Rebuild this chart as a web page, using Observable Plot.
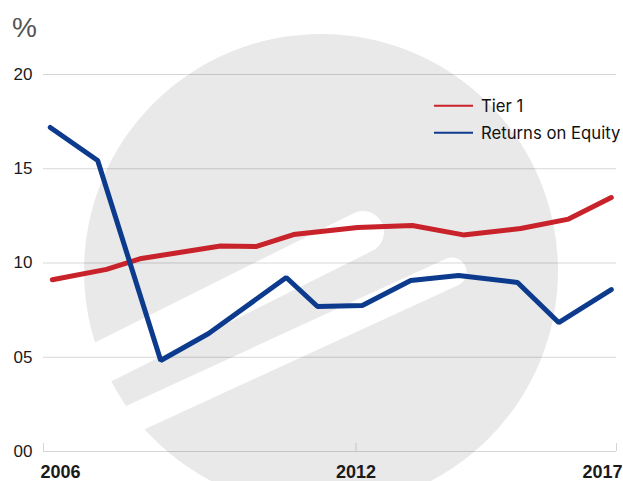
<!DOCTYPE html>
<html><head><meta charset="utf-8">
<script src="https://cdn.jsdelivr.net/npm/d3@7"></script>
<script src="https://cdn.jsdelivr.net/npm/@observablehq/plot@0.6"></script>
<style>
body{margin:0;background:#fff;}
#wrap{position:relative;width:623px;height:481px;overflow:hidden;}
#wrap svg{display:block}
#overlay{position:absolute;left:0;top:0;pointer-events:none}
</style></head><body><div id="wrap"></div>
<script>
// Data
const tierYears  = [2006.17, 2007.21, 2007.88, 2009.40, 2010.09, 2010.80, 2012.03, 2013.08, 2014.06, 2015.16, 2016.08, 2016.90];
const tierValues = [9.11, 9.66, 10.24, 10.90, 10.88, 11.51, 11.88, 11.99, 11.49, 11.83, 12.33, 13.47];
const roeYears   = [2006.13, 2007.04, 2008.25, 2009.17, 2010.66, 2011.26, 2012.12, 2013.05, 2013.97, 2015.10, 2015.89, 2016.90];
const roeValues  = [17.19, 15.44, 4.83, 6.26, 9.23, 7.69, 7.75, 9.07, 9.34, 8.97, 6.84, 8.59];
const seriesNames = ["Tier 1", "Returns on Equity"];
const seriesColors = ["#c8222a", "#0c3a8d"];
const xTicks = [2006, 2012, 2017];
const yTicks = [0, 5, 10, 15, 20];
const unitLabel = "%";

const tier = tierYears.map((x, i) => ({x, y: tierValues[i]}));
const roe = roeYears.map((x, i) => ({x, y: roeValues[i]}));

// decorative background logo (circle with two white stripes)
function watermark() {
  const g = d3.create("svg:g");
  g.append("circle").attr("cx", 321).attr("cy", 271).attr("r", 237).attr("fill", "#e9e9e9");
  const bands = [{ex: 363, ey: 232, w: 42, s: 0.5}, {ex: 452, ey: 272, w: 29, s: 0.46}];
  for (const b of bands) {
    const n = Math.hypot(1, b.s), L = 700;
    g.append("line")
      .attr("x1", b.ex).attr("y1", b.ey)
      .attr("x2", b.ex - L / n).attr("y2", b.ey + L * b.s / n)
      .attr("stroke", "#fff").attr("stroke-width", b.w).attr("stroke-linecap", "round");
  }
  return g.node();
}

const plot = Plot.plot({
  width: 623, height: 481,
  marginLeft: 43, marginRight: 7, marginTop: 74, marginBottom: 30,
  x: {domain: [2006, 2017]},
  y: {domain: [0, 20]},
  style: {fontFamily: "'Liberation Sans', Arial, sans-serif", background: "transparent", color: "#1a1a1a"},
  marks: [
    watermark,
    Plot.gridY(yTicks, {stroke: "#000", strokeOpacity: 0.16}),
    Plot.ruleX(xTicks, {stroke: "#000", strokeOpacity: 0.16, insetTop: 369}),
    Plot.axisY(yTicks, {tickSize: 0, tickPadding: 11, tickFormat: d3.format("02d"), fontSize: 17, label: null}),
    Plot.axisX(xTicks, {tickSize: 0, tickPadding: 14, tickFormat: d => String(d), fontSize: 18, fontWeight: "bold", label: null}),
    Plot.line(tier, {x: "x", y: "y", stroke: seriesColors[0], strokeWidth: 5, strokeLinejoin: "miter"}),
    Plot.line(roe, {x: "x", y: "y", stroke: seriesColors[1], strokeWidth: 5, strokeLinejoin: "miter"})
  ]
});
document.getElementById("wrap").appendChild(plot);

// first/last x labels anchored to the edges
const xl = plot.querySelectorAll('g[aria-label="x-axis tick label"] text');
if (xl.length) {
  xl[0].setAttribute("text-anchor", "start"); xl[0].setAttribute("dx", "-3");
  xl[xl.length - 1].setAttribute("text-anchor", "end"); xl[xl.length - 1].setAttribute("dx", "6");
}

// unit label and legend
const ov = d3.select("#wrap").append("svg").attr("id", "overlay").attr("width", 623).attr("height", 481);
ov.append("text").attr("x", 12).attr("y", 36.5).attr("font-size", 28)
  .attr("font-family", "'Liberation Sans', Arial, sans-serif").attr("fill", "#555").text(unitLabel);
seriesNames.forEach((name, i) => {
  const y = 105.7 + i * 27;
  ov.append("line").attr("x1", 434).attr("x2", 473).attr("y1", y).attr("y2", y)
    .attr("stroke", seriesColors[i]).attr("stroke-width", 2);
  ov.append("text").attr("x", 481).attr("y", y + 6).attr("font-family", "Inter, sans-serif")
    .attr("font-size", 16.7).attr("fill", "#111").text(name);
});
</script></body></html>
